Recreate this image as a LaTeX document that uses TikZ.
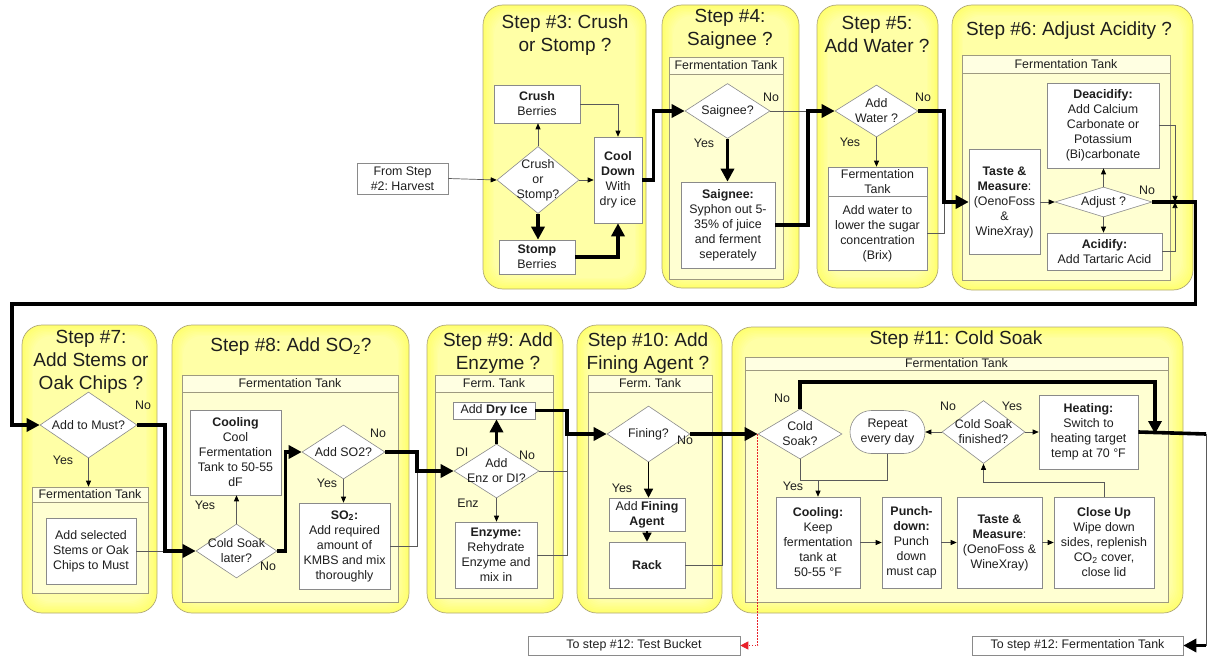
\documentclass[tikz,border=0pt]{standalone}
\usepackage{fontspec}
\setmainfont{Liberation Sans}
\usepackage{xcolor}
\usetikzlibrary{arrows.meta, positioning, shapes.geometric, calc}
\frenchspacing

\definecolor{colCardEdge}{HTML}{FFFF6E}
\definecolor{colCardCore}{HTML}{FFFFA8}
\definecolor{colCardLine}{HTML}{B0A878}
\definecolor{colLaneHead}{HTML}{FFFFE2}
\definecolor{colLaneBody}{HTML}{FFFFD2}
\definecolor{colLaneLine}{HTML}{9E9A80}
\definecolor{colBoxLine}{HTML}{8A8A8A}
\definecolor{colWire}{HTML}{5A5A5A}
\definecolor{colInk}{HTML}{1E1E1E}
\definecolor{colRed}{HTML}{E8202A}

\newcommand{\bodyfont}{\fontsize{12.4}{15}\selectfont}
\newcommand{\titlefont}{\fontsize{19}{23}\selectfont}

\tikzset{
  cardline/.style={draw=colCardLine, line width=0.7pt, rounded corners=20pt},
  lanebody/.style={draw=colLaneLine, fill=colLaneBody, line width=0.6pt},
  lanehead/.style={draw=colLaneLine, fill=colLaneHead, line width=0.6pt,
    inner sep=0pt, text=colInk},
  box/.style={draw=colBoxLine, fill=white, line width=0.6pt,
    align=center, inner sep=0pt, text=colInk},
  pill/.style={box, rounded corners=21.5pt},
  decision/.style={diamond, draw=colBoxLine, fill=white, line width=0.6pt,
    align=center, inner sep=-20pt, text=colInk},
  title/.style={align=center, font=\titlefont, text=colInk, inner sep=0pt},
  lbl/.style={text=colInk, inner sep=0pt},
  thinline/.style={line width=0.7pt, draw=colWire},
  thinarr/.style={thinline, -{Triangle[length=6pt,width=5pt,color=black]}},
  midarr/.style={line width=1.4pt, draw=black, -{Triangle[length=9pt,width=9pt]}},
  thickline/.style={line width=3.6pt, draw=black},
  thickarr/.style={thickline, -{Triangle[length=13pt,width=13pt]}},
  redarr/.style={line width=0.8pt, draw=colRed, dash pattern=on 1.5pt off 1.5pt,
    -{Triangle[length=8pt,width=8pt]}}
}

\begin{document}
\begin{tikzpicture}[x=1pt, y=-1pt, font=\bodyfont]
  \fill[white] (0,0) rectangle (1208,658);
  \useasboundingbox (0,0) rectangle (1208,658);

  % step cards, yellow glow towards the rim
  \foreach \xa/\ya/\xb/\yb in {483/5/646/289, 662/5/799/288, 817/5/938/288,
      952/5/1193/290, 22/325/157/613, 172/325/409/613, 427/325/563/613,
      577/325/722/613, 732/327/1183/613}{
    \fill[colCardEdge, rounded corners=20pt] (\xa,\ya) rectangle (\xb,\yb);
    \foreach \k in {1,...,8}{
      \pgfmathtruncatemacro{\pct}{100-12*\k}
      \fill[colCardEdge!\pct!colCardCore, rounded corners=18pt]
        (\xa+1.4*\k,\ya+1.4*\k) rectangle (\xb-1.4*\k,\yb-1.4*\k);
    }
    \draw[cardline] (\xa,\ya) rectangle (\xb,\yb);
  }

  % tank lanes
  \foreach \nm/\xa/\ya/\yh/\xb/\yb/\txt in {4/669/57/74/783/279/Fermentation Tank,
      6/962/55/73/1170/280/Fermentation Tank, 7/32/487/502/148/593/Fermentation Tank,
      8/182/375/392/398/602/Fermentation Tank, 9/435/375/392/553/598/Ferm. Tank,
      10/588/375/392/712/598/Ferm. Tank, 11/745/357/370/1168/602/Fermentation Tank}{
    \draw[lanebody] (\xa,\yh) rectangle (\xb,\yb);
    \node[lanehead, minimum width={\xb-\xa}, minimum height={\yh-\ya}]
      (lane\nm) at ({(\xa+\xb)/2},{(\ya+\yh)/2}) {\txt};
  }

  % titles
  \node[title] (t3)  at (565,35)   {Step \#3: Crush\\or Stomp ?};
  \node[title] (t4)  at (730,29)   {Step \#4:\\Saignee ?};
  \node[title] (t5)  at (877,34)   {Step \#5:\\Add Water ?};
  \node[title] (t6)  at (1069,31)  {Step \#6: Adjust Acidity ?};
  \node[title] (t7)  at (91,362)   {Step \#7:\\Add Stems or\\Oak Chips ?};
  \node[title] (t8)  at (291,346.5){Step \#8: Add SO\textsubscript{2}?};
  \node[title] (t9)  at (498,353)  {Step \#9: Add\\Enzyme ?};
  \node[title] (t10) at (648,353)  {Step \#10: Add\\Fining Agent ?};
  \node[title] (t11) at (956,340)  {Step \#11: Cold Soak};

  % step 3
  \node[box, minimum width=91, minimum height=31] (from2) at (402.5,178.5) {From Step\\\#2: Harvest};
  \node[box, minimum width=86, minimum height=38] (crush) at (537,104) {\textbf{Crush}\\Berries};
  \node[decision, minimum width=82, minimum height=67] (d3) at (538,180) {Crush\\or\\Stomp?};
  \node[box, minimum width=48, minimum height=86] (cool3) at (618,180) {\textbf{Cool}\\\textbf{Down}\\With\\dry ice};
  \node[box, minimum width=76, minimum height=34] (stomp) at (537,257) {\textbf{Stomp}\\Berries};

  % step 4
  \node[decision, minimum width=85, minimum height=55] (dsaig) at (727.5,111) {Saignee?};
  \node[box, minimum width=94, minimum height=86] (saig) at (728,225)
    {\textbf{Saignee:}\\Syphon out 5-\\35\% of juice\\and ferment\\seperately};

  % step 5
  \node[decision, minimum width=83, minimum height=52] (dwater) at (876.5,111) {Add\\Water ?};
  \node[box, minimum width=99, minimum height=29] (waterhead) at (877.5,181.5) {Fermentation\\Tank};
  \node[box, minimum width=99, minimum height=74, below=0pt of waterhead] (waterbody)
    {Add water to\\lower the sugar\\concentration\\(Brix)};

  % step 6
  \node[box, minimum width=71, minimum height=105] (taste6) at (1004.5,202)
    {\textbf{Taste \&}\\\textbf{Measure}:\\(OenoFoss\\\&\\WineXray)};
  \node[box, minimum width=112, minimum height=85] (deacid) at (1103,125.5)
    {\textbf{Deacidify:}\\Add Calcium\\Carbonate or\\Potassium\\(Bi)carbonate};
  \node[decision, minimum width=97, minimum height=30] (dadjust) at (1103.5,202) {Adjust ?};
  \node[box, minimum width=115, minimum height=37] (acid) at (1104.5,251.5)
    {\textbf{Acidify:}\\Add Tartaric Acid};

  % step 7
  \node[decision, minimum width=97, minimum height=66] (dmust) at (88.5,425) {Add to Must?};
  \node[box, minimum width=90, minimum height=66] (stems) at (91,551)
    {Add selected\\Stems or Oak\\Chips to Must};

  % step 8
  \node[box, minimum width=91, minimum height=85] (cool8) at (235.5,452.5)
    {\textbf{Cooling}\\Cool\\Fermentation\\Tank to 50-55\\dF};
  \node[decision, minimum width=81, minimum height=54] (dcold8) at (236.5,551) {Cold Soak\\later?};
  \node[decision, minimum width=83, minimum height=54] (dso2) at (343.5,452) {Add SO2?};
  \node[box, minimum width=91, minimum height=86] (so2) at (344.5,546)
    {\textbf{SO\textsubscript{2}:}\\Add required\\amount of\\KMBS and mix\\thoroughly};

  % step 9
  \node[box, minimum width=82, minimum height=17] (dryice) at (494,410.5) {Add \textbf{Dry Ice}};
  \node[decision, minimum width=85, minimum height=54] (denz) at (496.5,471) {Add\\Enz or DI?};
  \node[box, minimum width=82, minimum height=66] (enzyme) at (496,555)
    {\textbf{Enzyme:}\\Rehydrate\\Enzyme and\\mix in};

  % step 10
  \node[decision, minimum width=83, minimum height=56] (dfining) at (648.5,434) {Fining?};
  \node[box, minimum width=76, minimum height=33] (fagent) at (647,514.5) {Add \textbf{Fining}\\\textbf{Agent}};
  \node[box, minimum width=76, minimum height=46] (rack) at (647,565) {\textbf{Rack}};

  % step 11
  \node[decision, minimum width=84, minimum height=50] (dcold11) at (800,434) {Cold\\Soak?};
  \node[pill, minimum width=75, minimum height=43] (repeat) at (887.5,432) {Repeat\\every day};
  \node[decision, minimum width=83, minimum height=63] (dfinish) at (983.5,432) {Cold Soak\\finished?};
  \node[box, minimum width=99, minimum height=74] (heating) at (1088.5,432)
    {\textbf{Heating:}\\Switch to\\heating target\\temp at 70 °F};
  \node[box, minimum width=84, minimum height=91] (cool11) at (818,542.5)
    {\textbf{Cooling:}\\Keep\\fermentation\\tank at\\50-55 °F};
  \node[box, minimum width=59, minimum height=91] (punch) at (911.5,542.5)
    {\textbf{Punch-}\\\textbf{down:}\\Punch\\down\\must cap};
  \node[box, minimum width=85, minimum height=91] (taste11) at (999.5,542.5)
    {\textbf{Taste \&}\\\textbf{Measure}:\\(OenoFoss \&\\WineXray)};
  \node[box, minimum width=100, minimum height=91] (closeup) at (1104,542.5)
    {\textbf{Close Up}\\Wipe down\\sides, replenish\\CO\textsubscript{2} cover,\\close lid};

  % exits
  \node[box, minimum width=212, minimum height=19] (tobucket) at (634,645.5) {To step \#12: Test Bucket};
  \node[box, minimum width=211, minimum height=19] (tofer) at (1077.5,645.5) {To step \#12: Fermentation Tank};

  % branch labels
  \foreach \nm/\x/\y/\txt in {n4/771/97/No, y4/704/143/Yes, n5/923/97/No, y5/850/142/Yes,
      n6/1147/190/No, n7/143/405/No, y7/63/460/Yes, y8a/205/505/Yes, n8a/268/566/No,
      n8b/378/433/No, y8b/327/483/Yes, di9/462/452/DI, n9/527/455/No, enz9/468/503/Enz,
      n10/685/440/No, y10/622/488/Yes, n11a/782/398/No, y11a/793/486/Yes,
      n11b/948/406/No, y11b/1012/406/Yes}
    \node[lbl] (\nm) at (\x,\y) {\txt};

  % junctions
  \coordinate (j4)  at (808,111);
  \coordinate (j5)  at (944,202);
  \coordinate (j6)  at (1175,202);
  \coordinate (j7)  at (165,551);
  \coordinate (j9)  at (417,471);
  \coordinate (j10) at (567,434);
  \coordinate (j11) at (722,434);
  \coordinate (j12) at (1155,434);
  \coordinate (j13) at (1206,434);
  \coordinate (j14) at (1206,645.5);
  \coordinate (j15) at (818,480);

  % step 3 wiring
  \draw[thinarr] (from2.east) -- (d3.west);
  \draw[thinarr] (d3.north) -- (d3.north |- crush.south);
  \draw[thinarr] (d3) -- (cool3);
  \draw[thickarr] (d3.south) -- (d3.south |- stomp.north);
  \draw[thinarr] (crush.east) -| (cool3.north);
  \draw[thickarr] (stomp.east) -| (cool3.south);
  \draw[thickarr] (cool3.east) -- ++(11,0) |- (dsaig.west);

  % step 4 and 5 wiring
  \draw[thickarr] (dsaig.south) -- (dsaig.south |- saig.north);
  \draw[thinline] (dsaig.east) -- (j4);
  \draw[thickarr] (saig.east) -| (j4) -- (dwater.west);
  \draw[thinarr] (dwater.south) -- (dwater.south |- waterhead.north);
  \draw[thinline] (waterbody.east) -| (j5);
  \draw[thickarr] (dwater.east) -| (j5) -- (taste6.west);

  % step 6 wiring
  \draw[thinarr] (taste6) -- (dadjust);
  \draw[thinarr] (dadjust.north) -- (dadjust.north |- deacid.south);
  \draw[thinarr] (dadjust.south) -- (dadjust.south |- acid.north);
  \draw[thinarr] (deacid.east) -| (j6);
  \draw[thinarr] (acid.east) -| (j6);
  \draw[thickarr] (dadjust.east) -- ++(43,0) |- (12,304) |- (dmust.west);

  % step 7 and 8 wiring
  \draw[thinarr] (dmust.south) -- (dmust.south |- lane7.north);
  \draw[thinline] (stems.east) -- (j7);
  \draw[thickarr] (dmust.east) -| (j7) -- (dcold8.west);
  \draw[thinarr] (dcold8.north) -- (dcold8.north |- cool8.south);
  \draw[thickarr] (dcold8.east) -- ++(8,0) |- (dso2.west);
  \draw[thinarr] (dso2.south) -- (dso2.south |- so2.north);
  \draw[thinline] (so2.east) -| (j9);
  \draw[thickarr] (dso2.east) -| (j9) -- (denz.west);

  % step 9 and 10 wiring
  \draw[thickarr] (denz.north) -- (denz.north |- dryice.south);
  \draw[thinarr] (denz.south) -- (denz.south |- enzyme.north);
  \draw[thinline] (denz.east) -| (j10);
  \draw[thinline] (enzyme.east) -| (j10);
  \draw[thickarr] (dryice.east) -| (j10) -- (dfining.west);
  \draw[midarr] (dfining.south) -- (dfining.south |- fagent.north);
  \draw[midarr] (fagent) -- (rack);
  \draw[thinline] (rack.east) -| (j11);
  \draw[thickarr] (dfining.east) -- (dcold11.west);

  % step 11 wiring
  \draw[thickarr] (dcold11.north) -- ++(0,-27) -| (j12);
  \draw[thinline] (dcold11.south) |- (j15);
  \draw[thinline] (repeat.south) |- (j15);
  \draw[thinarr] (j15) -- (cool11.north);
  \foreach \a/\b in {cool11/punch, punch/taste11, taste11/closeup}
    \draw[thinarr] (\a) -- (\b);
  \draw[thinarr] (closeup.north) -- ++(0,-14) -| (dfinish.south);
  \draw[thinarr] (dfinish.west) -- (repeat.east);
  \draw[thinarr] (dfinish.east) -- (heating.west);
  \draw[thickline] (heating.east) -- (j13);
  \draw[thinline] (j13) -- (j14);
  \draw[thickarr] (j14) -- (tofer.east);
  \draw[redarr] (dcold11.west) |- (tobucket.east);
\end{tikzpicture}
\end{document}
